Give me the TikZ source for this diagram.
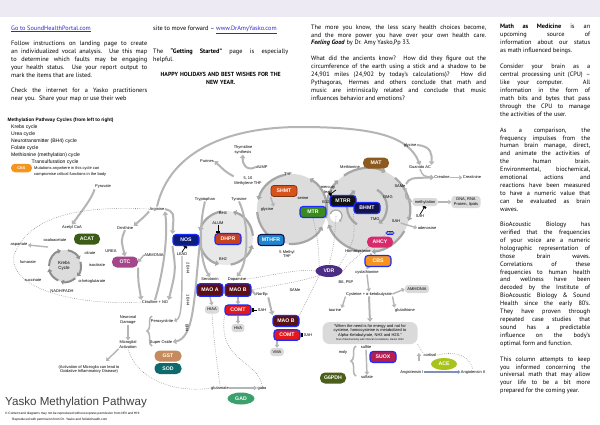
\documentclass[tikz,border=0pt]{standalone}
\usepackage{fontspec}
\setmainfont{PT Sans}
\newfontfamily\dfont{Liberation Sans}
\usetikzlibrary{arrows.meta,decorations.pathreplacing,shapes.geometric}
\pgfdeclarelayer{bg}
\pgfsetlayers{bg,main}
\definecolor{band}{HTML}{EEEAF4}
\definecolor{arrgray}{HTML}{B5B5B5}
\definecolor{ringgray}{HTML}{A6A6A6}
\definecolor{kringc}{HTML}{8E8E8E}
\definecolor{cyc}{HTML}{DCDCDC}
\definecolor{dotg}{HTML}{8C8C8C}
\definecolor{bluebd}{HTML}{1B2BFF}
\definecolor{linkb}{HTML}{2B2BCF}
\definecolor{pillg}{HTML}{DADADA}
\definecolor{cACAT}{HTML}{3D5B14}
\definecolor{cOTC}{HTML}{A4478A}
\definecolor{cNOS}{HTML}{0B1C7E}
\definecolor{cDHPR}{HTML}{C7411C}
\definecolor{cMTHFR}{HTML}{1E86CF}
\definecolor{cSHMT}{HTML}{D8531C}
\definecolor{cMTR}{HTML}{3A8A1D}
\definecolor{cMTRR}{HTML}{121212}
\definecolor{cBHMT}{HTML}{12124F}
\definecolor{cMAT}{HTML}{8C5A1F}
\definecolor{cAHCY}{HTML}{D82A6C}
\definecolor{cCBS}{HTML}{F7941D}
\definecolor{cVDR}{HTML}{4B2D86}
\definecolor{cMAO}{HTML}{5B1016}
\definecolor{cCOMT}{HTML}{E3181B}
\definecolor{cSUOX}{HTML}{B61E4F}
\definecolor{cGSIXPD}{HTML}{4B5E1A}
\definecolor{cACE}{HTML}{A8C41C}
\definecolor{cGST}{HTML}{C48B5E}
\definecolor{cSOD}{HTML}{0F6A6D}
\definecolor{cGAD}{HTML}{3BA06B}
\definecolor{angbar}{HTML}{8090B8}
\newcommand\cyarc[5]{\draw[#5] (#1) ++(#2:#4) arc[start angle=#2, end angle=#3, radius=#4];}
\tikzset{
  para/.style={anchor=north west, inner sep=0pt, align=justify, font=\fontsize{6.3}{7.9}\selectfont},
  lbl/.style={inner sep=0.4pt, align=center, font=\dfont\fontsize{4}{4.4}\selectfont},
  leg/.style={anchor=west, inner sep=0pt, font=\dfont\fontsize{5.1}{5.5}\selectfont},
  enz/.style={rounded corners=3pt, minimum width=26pt, minimum height=11pt, inner sep=0pt, text=white, font=\dfont\bfseries\fontsize{5.2}{5.2}\selectfont},
  benz/.style={enz, draw=bluebd, line width=1.1pt},
  pillen/.style={enz, rounded corners=5pt},
  ovalen/.style={ellipse, inner sep=0pt, minimum width=27pt, minimum height=12pt, text=white, font=\dfont\bfseries\fontsize{5.2}{5.2}\selectfont},
  gpill/.style={lbl, fill=pillg, rounded corners=3pt, minimum height=8pt, inner xsep=2.5pt},
  garr/.style={draw=arrgray, line width=2pt, -{Triangle[length=3.5pt,width=5.5pt]}},
  gthin/.style={draw=arrgray, line width=1.4pt, -{Triangle[length=3pt,width=4.5pt]}},
  gline/.style={draw=arrgray, line width=2pt},
  dotl/.style={draw=dotg, line width=0.6pt, dash pattern=on 0.6pt off 1.3pt},
  ringa/.style={draw=ringgray, line width=2.2pt, -{Triangle[length=3.5pt,width=5.5pt]}},
  kring/.style={draw=kringc, line width=2pt, -{Triangle[length=3pt,width=5pt]}},
  tbar/.style={draw=black, line width=0.7pt, -{Rectangle[length=2pt,width=3.5pt]}},
  brc/.style={draw=arrgray, line width=1.5pt, decorate, decoration={brace, amplitude=5pt}},
}
\begin{document}
\begin{tikzpicture}[x=1pt,y=-1pt]
\useasboundingbox (0,0) rectangle (600,424);
\begin{pgfonlayer}{bg}
\fill[white] (0,0) rectangle (600,424);
\fill[band] (0,0) rectangle (600,17);
\end{pgfonlayer}

% ---------- text columns ----------
\node[anchor=base west, inner sep=0pt, font=\fontsize{6.3}{7.9}\selectfont, text=linkb] (p1a) at (11,30) {\underline{Go to SoundHealthPortal.com}};
\node[para, text width=136pt] (p1b) at (11,40.8) {Follow instructions on landing page to create\linebreak an individualized vocal analysis. Use this map\linebreak to determine which faults may be engaging\linebreak your health status. Use your report output to\linebreak mark the items that are listed.};
\node[para, text width=136pt] (p1c) at (11,87.5) {\parfillskip=0pt Check the internet for a Yasko practitioners\linebreak near you.\ \ Share your map or use their web};

\node[para, text width=135pt] (p2a) at (153,25.4) {\parfillskip=0pt site to move forward -- {\color{linkb}\underline{www.DrAmyYasko.com}}};
\node[para, text width=135pt] (p2b) at (153,48.5) {The \textbf{“Getting Started”} page is especially\linebreak helpful.};
\node[para, text width=135pt, align=center, font=\bfseries\fontsize{5.9}{7.9}\selectfont] (p2c) at (153,71.8) {HAPPY HOLIDAYS AND BEST WISHES FOR THE\\NEW YEAR.};

\node[para, text width=175pt] (p3a) at (311,24.5) {The more you know, the less scary health choices become,\linebreak and the more power you have over your own health care.\linebreak \textbf{\textit{Feeling Good}} by Dr. Amy Yasko,Pp 33.};
\node[para, text width=175pt] (p3b) at (311,56) {What did the ancients know? How did they figure out the\linebreak circumference of the earth using a stick and a shadow to be\linebreak 24,901 miles (24,902 by today’s calculations)? How did\linebreak Pythagoras, Hermes and others conclude that math and\linebreak music are intrinsically related and conclude that music\linebreak influences behavior and emotions?};

\node[para, text width=90pt] (p4a) at (500,24.2) {\textbf{Math as Medicine} is an\linebreak upcoming source of\linebreak information about our status\linebreak as math influenced beings.};
\node[para, text width=90pt] (p4b) at (500,64) {Consider your brain as a\linebreak central processing unit (CPU) --\linebreak like your computer. All\linebreak information in the form of\linebreak math bits and bytes that pass\linebreak through the CPU to manage\linebreak the activities of the user.};
\node[para, text width=90pt] (p4c) at (500,127.5) {As a comparison, the\linebreak frequency impulses from the\linebreak human brain manage, direct,\linebreak and animate the activities of\linebreak the human brain.\linebreak Environmental, biochemical,\linebreak emotional actions and\linebreak reactions have been measured\linebreak to have a numeric value that\linebreak can be evaluated as brain\linebreak waves.};
\node[para, text width=90pt] (p4d) at (500,222) {BioAcoustic Biology has\linebreak verified that the frequencies\linebreak of your voice are a numeric\linebreak holographic representation of\linebreak those brain waves.\linebreak Correlations of these\linebreak frequencies to human health\linebreak and wellness have been\linebreak decoded by the Institute of\linebreak BioAcoustic Biology \& Sound\linebreak Health since the early 80’s.\linebreak They have proven through\linebreak repeated case studies that\linebreak sound has a predictable\linebreak influence on the body’s\linebreak optimal form and function.};
\node[para, text width=90pt] (p4e) at (500,356.5) {This column attempts to keep\linebreak you informed concerning the\linebreak universal math that may allow\linebreak your life to be a bit more\linebreak prepared for the coming year.};

% ---------- legend ----------
\node[leg, font=\dfont\bfseries\fontsize{4.8}{5}\selectfont] (lgt) at (7.5,120.5) {Methylation Pathway Cycles (from left to right)};
\node[leg] (lg1) at (11,127.5) {Krebs cycle};
\node[leg] (lg2) at (11,134.5) {Urea cycle};
\node[leg] (lg3) at (11,141.5) {Neurotransmitter (BH4) cycle};
\node[leg] (lg4) at (11,148.5) {Folate cycle};
\node[leg] (lg5) at (11,155.5) {Methionine (methylation) cycle};
\node[leg] (lg6) at (31.5,162.5) {Transulfuration cycle};
\node[enz, fill=cCBS, minimum width=21pt, minimum height=8.5pt, rounded corners=4pt, font=\dfont\bfseries\fontsize{3.8}{4}\selectfont] (lgcbs) at (21.5,168) {CBS};
\node[leg, font=\dfont\fontsize{4}{4.4}\selectfont] (lg7) at (34,168.5) {Mutations anywhere in this cycle can};
\node[leg, font=\dfont\fontsize{4}{4.4}\selectfont] (lg8) at (34,174.5) {compromise critical functions in the body};

% ---------- Krebs ----------
\node[lbl] (pyr) at (103,187) {Pyruvate};
\node[lbl] (acoa) at (72,227) {Acetyl CoA};
\node[pillen, fill=cACAT] (acat) at (87,239) {ACAT};
\node[lbl] (oxa) at (55,240) {oxaloacetate};
\node[lbl] (asp) at (19,245) {aspartate};
\node[lbl] (cit) at (90,253) {citrate};
\node[lbl] (iso) at (97,265) {isocitrate};
\node[lbl] (akg) at (92,281) {α-ketoglutarate};
\node[lbl] (nadh) at (62,291) {NADH/FADH};
\node[lbl] (suc) at (33,280) {succinate};
\node[lbl] (fum) at (28,262) {fumarate};
\node[lbl, font=\dfont\fontsize{4.5}{5}\selectfont] (kreb) at (64,266) {Krebs\\Cycle};
\coordinate (kc) at (65,266);
\coordinate (koxa) at (48,247);

% ---------- Urea ----------
\node[lbl] (arg) at (157,209) {Arginine};
\node[lbl] (orn) at (125,228) {Ornithine};
\node[lbl] (urea) at (111,251) {UREA};
\node[pillen, fill=cOTC] (otc) at (125,262) {OTC};
\node[lbl] (amm1) at (154,255) {AMMONIA};
\node[lbl] (citno) at (155,302) {Citrulline + NO};
\node[benz, fill=cNOS] (nos) at (186,240) {NOS};
\node[lbl] (lead) at (182,254) {LEAD};
\node[lbl, rotate=-90] (bhx1) at (188,268) {2 BH4};
\node[lbl, rotate=-90] (bhx2) at (188,300) {1 BH4};
\node[lbl, rotate=-90] (bhx3) at (187,328) {BH4};

% ---------- neuro damage ----------
\node[lbl] (nd) at (128,320) {Neuronal\\Damage};
\node[lbl] (ma) at (128,344.5) {Microglial\\Activation};
\node[lbl] (perox) at (162,321) {Peroxynitrite};
\node[lbl] (supox) at (161,342) {Super Oxide};
\node[pillen, fill=cGST, minimum width=27pt] (gst) at (168,356) {GST};
\node[pillen, fill=cSOD, minimum width=27pt] (sod) at (168,368.5) {SOD};
\node[lbl] (actm) at (89,369.5) {(Activation of Microglia can lead to\\Oxidative Inflammatory Disease)};
\coordinate (actarr) at (106,361);
\node[lbl] (glu) at (220,388) {glutamate};
\node[lbl] (gaba) at (262,388) {gaba};
\node[ovalen, fill=cGAD] (gad) at (241,398.5) {GAD};

% ---------- neurotransmitter ----------
\node[lbl] (trp) at (205,199) {Tryptophan};
\node[lbl] (tyr) at (239,199) {Tyrosine};
\node[lbl] (bh4) at (223,213) {BH4};
\node[lbl] (alum) at (218,223) {ALUM};
\node[benz, fill=cDHPR] (dhpr) at (228,239) {DHPR};
\node[lbl] (bh2) at (223,259) {BH2};
\node[benz, fill=cMTHFR, draw=cBHMT] (mthfr) at (271,240) {MTHFR};
\node[lbl] (mthfv) at (287,254) {5 Methyl\\THF};
\node[lbl] (sero) at (210,279) {Serotonin};
\node[lbl] (dopa) at (237,279) {Dopamine};
\node[benz, fill=cMAO, minimum height=12.5pt] (maoa) at (210,290) {MAO A};
\node[benz, fill=cMAO, minimum height=12.5pt] (maob) at (238,290) {MAO B};
\node[gpill] (hiaa) at (212,309.5) {HIAA};
\node[benz, fill=cCOMT, minimum height=10pt] (comt) at (238,310) {COMT};
\node[lbl] (sahA) at (262,310) {SAH};
\node[gpill] (hva) at (238,328) {HVA};
\node[lbl] (norep) at (262,295) {NorEp};
\node[lbl] (sameA) at (295,290) {SAMe};
\node[benz, fill=cMAO, minimum height=11pt] (maobb) at (286,321) {MAO B};
\node[benz, fill=cCOMT, minimum height=10.5pt] (comtb) at (287,335) {COMT};
\node[lbl] (sahB) at (308,335) {SAH};
\node[gpill] (vma) at (277,352) {VMA};

% ---------- folate ----------
\node[lbl] (pur) at (207,161) {Purines};
\node[lbl] (thy) at (243,150) {Thymidine\\synthesis};
\node[lbl] (dump) at (262,167) {dUMP};
\node[lbl] (mthfx) at (248,181) {5, 10\\Methylene THF};
\node[lbl] (thf) at (288,174) {THF};
\node[enz, fill=cSHMT, draw=cSHMT!60!black, line width=0.8pt] (shmt) at (284,191) {SHMT};
\node[lbl] (seri) at (303,198) {serine};
\node[lbl] (glyA) at (267,209) {glycine};
\node[benz, fill=cMTR] (mtr) at (313,212) {MTR};

% ---------- methionine ----------
\node[lbl] (met) at (350,167) {Methionine};
\node[pillen, fill=cMAT] (mat) at (376,163) {MAT};
\node[lbl] (merc) at (328,190) {mercury\\lead};
\node[lbl] (bxii) at (326,202) {B12};
\node[benz, fill=cMTRR] (mtrr) at (343,201) {MTRR};
\node[benz, fill=cBHMT] (bhmt) at (367,208) {BHMT};
\node[lbl] (dmg) at (388,197) {DMG};
\node[lbl] (tmg) at (375,219) {TMG};
\node[lbl] (same) at (400,186) {SAMe};
\node[lbl] (sahC) at (396,221) {SAH};
\node[lbl] (adeno) at (427,228) {adenosine};
\node[lbl, draw=bluebd, line width=0.6pt, rounded corners=1.5pt, inner xsep=1pt, font=\dfont\fontsize{3.2}{3.5}\selectfont] (ada) at (390,233) {ADA};
\node[pillen, fill=cAHCY] (ahcy) at (380,242) {AHCY};
\node[lbl] (hcy) at (358,251) {Homocysteine};
\node[benz, fill=cCBS] (cbs) at (378,261) {CBS};
\node[lbl] (cysta) at (367,272) {cystathionine};
\node[lbl] (cyst) at (369,294) {Cysteine + α-ketobutyrate};
\node[gpill] (ammB) at (417,289) {AMMONIA};
\node[lbl] (taur) at (335,310) {taurine};
\node[lbl] (glut) at (405,310) {glutathione};
\node[ovalen, fill=cVDR] (vdr) at (329,271) {VDR};
\node[lbl] (bsix) at (346,282) {B6, P5P};
\coordinate (mc) at (368,210);
\coordinate (bc) at (367,207);
\coordinate (fc) at (292,209);
\coordinate (nc) at (226,238);
\coordinate (wc) at (336,216);

% ---------- lower right ----------
\node[lbl, fill=pillg, rounded corners=7pt, minimum width=95pt, minimum height=22pt, inner sep=1pt] (quote) at (370,333) {“When the need is for energy and not for\\cysteine, homocysteine is metabolized to\\Alpha-Ketobutyrate, NH3 and H2S.”\\{\fontsize{2.6}{3}\selectfont Text of Biochemistry with Clinical Correlations, Devlin 2002}};
\node[lbl] (sulfi) at (366,347.5) {sulfite};
\node[lbl] (moly) at (343,352) {moly};
\node[benz, fill=cSUOX] (suox) at (383,357) {SUOX};
\node[lbl] (sulfa) at (367,377) {sulfate};
\node[pillen, fill=cGSIXPD] (gsixpd) at (333,378) {G6PDH};
\node[lbl] (cort) at (430,355) {cortisol};
\coordinate (cortarr) at (419,361);
\node[ovalen, fill=cACE, minimum width=26pt] (ace) at (444,364) {ACE};
\node[lbl] (angi) at (412,372) {Angiotensin I};
\node[lbl] (angii) at (473,372) {Angiotensin II};

% ---------- upper right ----------
\node[lbl] (glyB) at (410,145) {glycine};
\node[lbl] (guan) at (420,167) {Guanido AC};
\node[lbl] (crea) at (442,177.5) {Creatine};
\node[lbl] (creat) at (472,177.5) {Creatinine};
\node[gpill] (meth) at (425,202) {methylation};
\node[gpill, minimum height=12pt] (dna) at (466,202) {DNA, RNA\\Protein, lipids};
\node[lbl] (sahD) at (420,216.5) {SAH};

% ---------- title ----------
\node[anchor=base west, inner sep=0pt, text=black!75, font=\dfont\fontsize{11.6}{12}\selectfont] (title) at (5,405) {Yasko Methylation Pathway};
\node[anchor=base west, inner sep=0pt, font=\dfont\fontsize{3.2}{3.5}\selectfont] (copya) at (5,414.5) {© Content and diagrams may not be reproduced without express permission from NRI and HHI};
\node[anchor=base west, inner sep=0pt, font=\dfont\fontsize{3.2}{3.5}\selectfont] (copyb) at (12,420.5) {Reproduced with permission from Dr. Yasko and holistichealth.com};

\begin{pgfonlayer}{bg}
% cycle discs
\fill[cyc] (kc) circle[radius=16];
\fill[cyc!65] (nc) circle[radius=27];
\fill[cyc] (fc) circle[radius=35];
\fill[cyc] (mc) circle[radius=42];
\fill[white] (wc) circle[radius=6];
% rings
\cyarc{kc}{-80}{-25}{16}{kring}
\cyarc{kc}{-15}{40}{16}{kring}
\cyarc{kc}{50}{105}{16}{kring}
\cyarc{kc}{115}{170}{16}{kring}
\cyarc{kc}{180}{255}{16}{kring}
\cyarc{nc}{-100}{-165}{27}{ringa}
\cyarc{nc}{-190}{-255}{27}{ringa}
\cyarc{nc}{80}{15}{27}{ringa}
\cyarc{nc}{-5}{-75}{27}{ringa}
\cyarc{fc}{-100}{-165}{35}{ringa}
\cyarc{fc}{-185}{-250}{35}{ringa}
\cyarc{fc}{-265}{-330}{35}{ringa}
\cyarc{fc}{-345}{-420}{35}{ringa}
\cyarc{mc}{-125}{-65}{42}{ringa}
\cyarc{mc}{-50}{15}{42}{ringa}
\cyarc{mc}{30}{85}{42}{ringa}
\cyarc{mc}{100}{160}{42}{ringa}
\cyarc{mc}{175}{225}{42}{ringa}
\cyarc{bc}{120}{235}{20}{ringa}
\cyarc{bc}{-60}{55}{20}{ringa}
\cyarc{wc}{-160}{60}{6}{draw=ringgray, line width=1.2pt, -{Triangle[length=2pt,width=3pt]}}
% Krebs arrows
\draw[garr] (pyr.south west) .. controls (92,198) and (84,208) .. (acoa.north);
\draw[gthin] (koxa) -- (asp.east);
\draw[dotl] (arg.west) .. controls (90,206) and (30,212) .. (14,255) .. controls (8,290) and (80,306) .. (citno.west);
% Urea arrows
\draw[garr] (arg.south west) .. controls (145,216) .. (orn.north east);
\draw[garr] (orn.south) .. controls (121,240) .. (otc.north);
\draw[garr] (otc.south east) .. controls (138,280) .. (citno.north west);
\draw[garr] (citno.north) .. controls (164,270) and (168,235) .. (arg.south east);
\draw[garr] (arg.east) .. controls (174,212) .. (nos.north west);
\draw[garr] (nos.south west) .. controls (176,270) .. (citno.north east);
\draw[gthin] (amm1.west) -- (otc.east);
\draw[tbar] (lead.north) -- (nos.south);
\draw[garr] (nos.south east) .. controls (194,300) and (194,338) .. (supox.east);
\draw[gthin] (lead.south) .. controls (182,300) and (182,318) .. (perox.east);
% big arc Arginine -> Guanido AC
\draw[garr] (arg.north) .. controls (170,150) and (230,127) .. (300,127) .. controls (370,127) and (408,135) .. (guan.north);
% neuro damage
\draw[gthin] (nd.south) -- (ma.north);
\draw[brc] (152,346) -- (152,316);
\draw[gthin] (ma.south west) -- (actarr);
\draw[dotl] (ma.south) .. controls (140,388) and (190,392) .. (glu.west);
\draw[gthin] (glu.east) -- (gaba.west);
\draw[dotl] (hiaa.south) .. controls (214,340) .. (glu.north);
\draw[dotl] (comt.south west) .. controls (218,362) and (258,360) .. (gaba.north);
% neurotransmitters
\draw[garr] (trp.south) .. controls (199,225) and (199,260) .. (sero.north);
\draw[garr] (tyr.south) .. controls (250,225) and (248,262) .. (dopa.north);
\draw[tbar] (alum.south) -- (alum.south |- dhpr.north);
\draw[gthin] (maoa.south) -- (hiaa.north);
\draw[gthin] (maob.south) -- (comt.north);
\draw[gthin] (comt.south) -- (hva.north);
\draw[tbar] (sahA.west) -- (comt.east);
\draw[gline] (maob.east) -- (norep.west);
\draw[garr] (norep.south east) -- (maobb.north west);
\draw[gthin] (vma.north |- comtb.south) -- (vma.north);
\draw[tbar] (sahB.west) -- (comtb.east);
% folate
\draw[garr] (mthfx.north west) .. controls (226,172) .. (pur.east);
\draw[garr] (dump.west) .. controls (246,172) and (242,163) .. (thy.south);
\draw[gthin] (shmt.south west) -- (glyA.north east);
% methionine
\draw[tbar] (merc.east) -- (mtrr.north west);
\draw[gthin] (sahC.south east) -- (adeno.west);
\draw[gthin] (same.south east) .. controls (405,198) .. (meth.west);
\draw[gthin] (meth.east) -- (dna.west);
\draw[tbar] (sahD.north) -- (meth.south);
\draw[garr] (same.north east) .. controls (410,178) .. (crea.west);
\draw[gthin] (guan.south) .. controls (423,176) .. (crea.west);
\draw[gthin] (crea.east) -- (creat.west);
\draw[garr] (glyB.east) .. controls (432,146) and (432,155) .. (guan.north east);
% transsulfuration
\draw[garr] (hcy.south east) -- (cysta.north);
\draw[gthin] (cysta.south) -- (cyst.north);
\draw[gthin] (cyst.south west) -- (taur.north east);
\draw[gthin] (cyst.south east) -- (glut.north west);
\draw[gthin] (cyst.east) -- (ammB.west);
\draw[garr] (cyst.south) -- (quote.north);
\draw[gthin] (sulfi.south) -- (sulfa.north);
\draw[brc] (356,376) -- (356,346);
\draw[gthin] (cortarr) -- (cortarr |- cort.north);
\draw[draw=angbar, line width=1.5pt, -{Triangle[length=2.5pt,width=4pt]}] (angi.east) -- (angii.west);
\draw[dotl] (quote.south east) .. controls (420,348) .. (cort.north west);
\draw[dotl] (cort.east) .. controls (460,350) and (470,358) .. (angii.north);
% VDR dotted links
\draw[dotl] (vdr.west) .. controls (300,268) and (270,276) .. (dopa.east);
\draw[dotl] (vdr.south west) .. controls (300,282) and (275,285) .. (maob.east);
\draw[dotl] (vdr.south west) .. controls (310,295) .. (maobb.north east);
\draw[dotl] (mtr.south) .. controls (318,240) .. (vdr.north west);
\draw[dotl] (wc) .. controls (334,245) .. (vdr.north);
\draw[dotl] (bhmt.south west) .. controls (355,240) .. (vdr.north east);
\draw[dotl] (vdr.east) .. controls (350,262) and (370,245) .. (ada.south west);
\end{pgfonlayer}
\end{tikzpicture}
\end{document}
